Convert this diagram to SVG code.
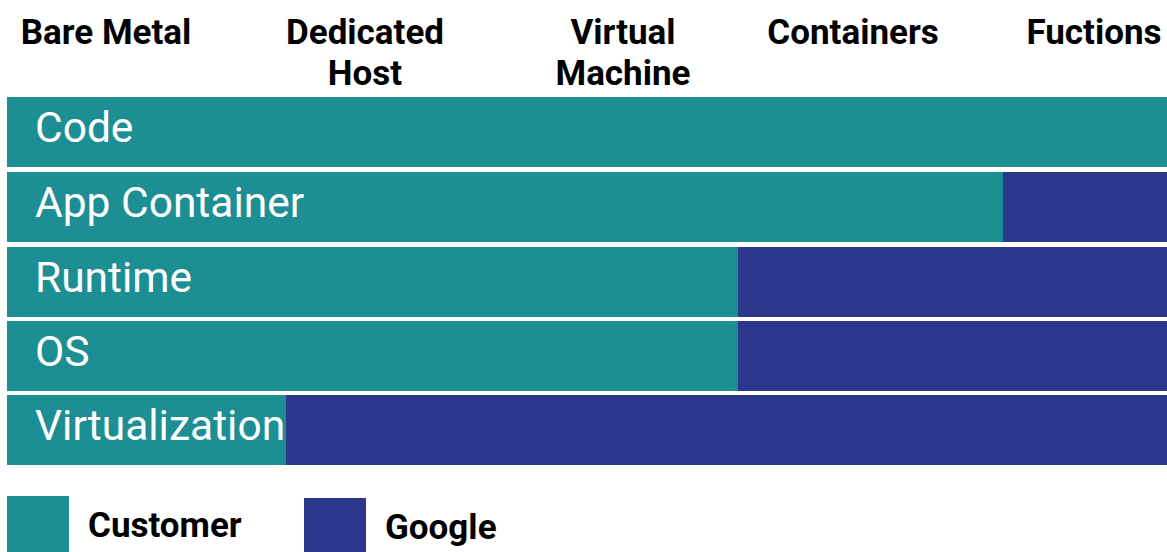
<svg xmlns="http://www.w3.org/2000/svg" width="1167" height="552" viewBox="0 0 1167 552">
<style>
.cust{fill:#1c8e94}
.goog{fill:#2b378b}
.hdr{font-family:Roboto,"Liberation Sans",sans-serif;font-weight:700;font-size:35px;fill:#000;text-anchor:middle}
.lbl{font-family:Roboto,"Liberation Sans",sans-serif;font-weight:400;font-size:42.5px;fill:#fff}
.leg{font-family:Roboto,"Liberation Sans",sans-serif;font-weight:700;font-size:35px;fill:#000}
</style>
<rect width="1167" height="552" fill="#fff"/>
<g id="headers">
<text class="hdr" x="106" y="44">Bare Metal</text>
<text class="hdr" x="365" y="44">Dedicated</text>
<text class="hdr" x="365" y="85">Host</text>
<text class="hdr" x="623" y="44">Virtual</text>
<text class="hdr" x="623" y="85">Machine</text>
<text class="hdr" x="853" y="44">Containers</text>
<text class="hdr" x="1094" y="44">Fuctions</text>
</g>
<g id="row-code">
<rect class="cust" x="7" y="97" width="1160" height="70"/>
<text class="lbl" x="35" y="142">Code</text>
</g>
<g id="row-app-container">
<rect class="cust" x="7" y="172" width="996" height="70"/>
<rect class="goog" x="1003" y="172" width="164" height="70"/>
<text class="lbl" x="35" y="217">App Container</text>
</g>
<g id="row-runtime">
<rect class="cust" x="7" y="247" width="731" height="70"/>
<rect class="goog" x="738" y="247" width="429" height="70"/>
<text class="lbl" x="35" y="292">Runtime</text>
</g>
<g id="row-os">
<rect class="cust" x="7" y="321" width="731" height="70"/>
<rect class="goog" x="738" y="321" width="429" height="70"/>
<text class="lbl" x="35" y="366">OS</text>
</g>
<g id="row-virtualization">
<rect class="cust" x="7" y="395" width="279" height="70"/>
<rect class="goog" x="286" y="395" width="881" height="70"/>
<text class="lbl" x="35" y="440">Virtualization</text>
</g>
<g id="legend-customer">
<rect class="cust" x="7" y="496" width="62" height="56"/>
<text class="leg" x="88" y="537">Customer</text>
</g>
<g id="legend-google">
<rect class="goog" x="304" y="498" width="62" height="54"/>
<text class="leg" x="385" y="539">Google</text>
</g>
<g id="connectors"/>
</svg>
